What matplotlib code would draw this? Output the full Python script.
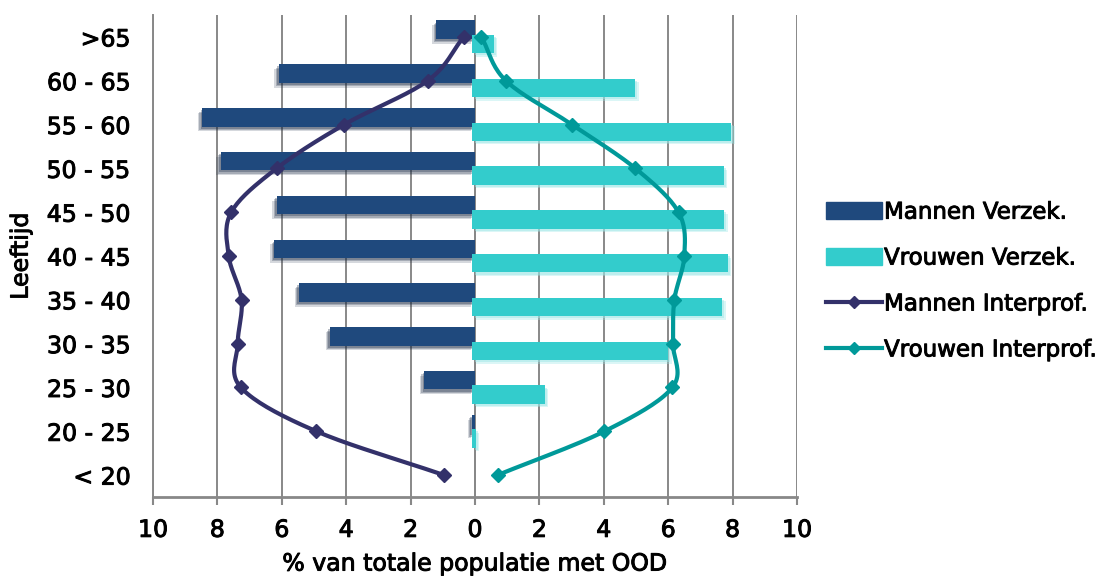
import numpy as np
import matplotlib.pyplot as plt
import matplotlib.patheffects as pe
from matplotlib.lines import Line2D
from matplotlib.patches import Patch

# age groups, bottom to top
age_groups = ['< 20', '20 - 25', '25 - 30', '30 - 35', '35 - 40', '40 - 45',
              '45 - 50', '50 - 55', '55 - 60', '60 - 65', '>65']

# % of total population with OOD
men_insured = [0.0, 0.1, 1.58, 4.51, 5.47, 6.23, 6.16, 7.9, 8.48, 6.1, 1.2]
women_insured = [0.0, 0.1, 2.24, 6.08, 7.76, 7.93, 7.82, 7.8, 8.04, 5.05, 0.67]
men_interprof = [0.96, 4.93, 7.27, 7.37, 7.25, 7.65, 7.57, 6.16, 4.06, 1.47, 0.35]
women_interprof = [0.7, 4.02, 6.13, 6.15, 6.19, 6.5, 6.32, 4.98, 3.01, 0.96, 0.2]

series_labels = ['Mannen Verzek.', 'Vrouwen Verzek.',
                 'Mannen Interprof.', 'Vrouwen Interprof.']
xticks = np.arange(-10, 11, 2)

c_men_bar = '#1F497D'
c_women_bar = '#33CCCC'
c_men_line = '#33316A'
c_women_line = '#009999'
c_grid = '#888888'


def smooth(x, y, steps=20, yscale=1.36):
    '''Catmull-Rom curve through the points (smoothed line)'''
    pts = np.column_stack([x, np.asarray(y, float) * yscale]).astype(float)
    ext = np.vstack([2*pts[0] - pts[1], pts, 2*pts[-1] - pts[-2]])
    t = np.linspace(0, 1, steps, endpoint=False)[:, None]
    out = []
    for i in range(1, len(ext) - 2):
        p0, p1, p2, p3 = ext[i-1], ext[i], ext[i+1], ext[i+2]
        seg = 0.5*(2*p1 + (p2 - p0)*t + (2*p0 - 5*p1 + 4*p2 - p3)*t**2
                   + (3*p1 - p0 - 3*p2 + p3)*t**3)
        out.append(seg)
    out.append(pts[-1:])
    c = np.vstack(out)
    return c[:, 0], c[:, 1] / yscale


plt.rcParams['font.family'] = 'DejaVu Sans'
fig = plt.figure(figsize=(11.09, 5.77), dpi=100)
ax = fig.add_axes([153/1109, 1 - 497/577, 644/1109, 482/577])

y = np.arange(len(age_groups))
h = 0.42
off = 0.165

# soft drop shadow under the men bars, light glow round the women bars
men_fx = [pe.SimplePatchShadow(offset=(-3, -3.5), shadow_rgbFace='#1A2A45', alpha=0.18),
          pe.SimplePatchShadow(offset=(-2, -2.5), shadow_rgbFace='#1A2A45', alpha=0.25),
          pe.SimplePatchShadow(offset=(-1, -1.5), shadow_rgbFace='#1A2A45', alpha=0.3),
          pe.Normal()]
women_fx = [pe.SimplePatchShadow(offset=(2.5, -2.5), shadow_rgbFace='#99E6E6', alpha=0.35),
            pe.SimplePatchShadow(offset=(1.5, -1.5), shadow_rgbFace='#99E6E6', alpha=0.45),
            pe.Normal()]

ax.barh(y + off, -np.array(men_insured), height=h, color=c_men_bar,
        path_effects=men_fx, zorder=2)
ax.barh(y - off, women_insured, height=h, color=c_women_bar, left=-0.08,
        path_effects=women_fx, zorder=2)

mx, my = smooth(-np.array(men_interprof), y)
wx, wy = smooth(np.array(women_interprof), y)
ax.plot(mx, my, color=c_men_line, lw=3, zorder=4, solid_capstyle='round')
ax.plot(-np.array(men_interprof), y, ls='none', marker='D', ms=7.5,
        color=c_men_line, zorder=5)
ax.plot(wx, wy, color=c_women_line, lw=3, zorder=4, solid_capstyle='round')
ax.plot(women_interprof, y, ls='none', marker='D', ms=7.5,
        color=c_women_line, zorder=5)

ax.set_xlim(-10, 10)
ax.set_ylim(-0.5, len(age_groups) - 0.5)
ax.set_xticks(xticks)
ax.set_xticklabels([str(abs(v)) for v in xticks])
ax.set_yticks(y)
ax.set_yticklabels(age_groups)
ax.tick_params(axis='y', length=0, pad=16, labelsize=17)
ax.tick_params(axis='x', length=6, width=1.5, color=c_grid, pad=9, labelsize=17)

ax.xaxis.grid(True, color=c_grid, lw=1.4, zorder=0)
ax.set_axisbelow(True)
for s in ['top', 'right']:
    ax.spines[s].set_visible(False)
ax.spines['left'].set_color(c_grid)
ax.spines['left'].set_linewidth(1.4)
ax.spines['bottom'].set_color(c_grid)
ax.spines['bottom'].set_linewidth(2)
ax.axvline(0, color=c_grid, lw=1.4, zorder=1)

ax.set_xlabel('% van totale populatie met OOD', fontsize=17, labelpad=7)
ax.set_ylabel('Leeftijd', fontsize=17, labelpad=10)

handles = [Patch(color=c_men_bar), Patch(color=c_women_bar),
           Line2D([], [], color=c_men_line, lw=3, marker='D', ms=6),
           Line2D([], [], color=c_women_line, lw=3, marker='D', ms=6)]
leg = fig.legend(handles, series_labels, loc='upper left',
                 bbox_to_anchor=(805/1109, 1 - 180/577), frameon=False,
                 fontsize=16.5, handlelength=2.45, handleheight=0.8,
                 handletextpad=0.1, labelspacing=1.0, numpoints=1)

# slightly heavier strokes on all text
thick = [pe.withStroke(linewidth=0.7, foreground='black')]
texts = (ax.get_xticklabels() + ax.get_yticklabels() + leg.get_texts()
         + [ax.xaxis.label, ax.yaxis.label])
for t in texts:
    t.set_path_effects(thick)

fig.savefig('out.png', dpi=100)
